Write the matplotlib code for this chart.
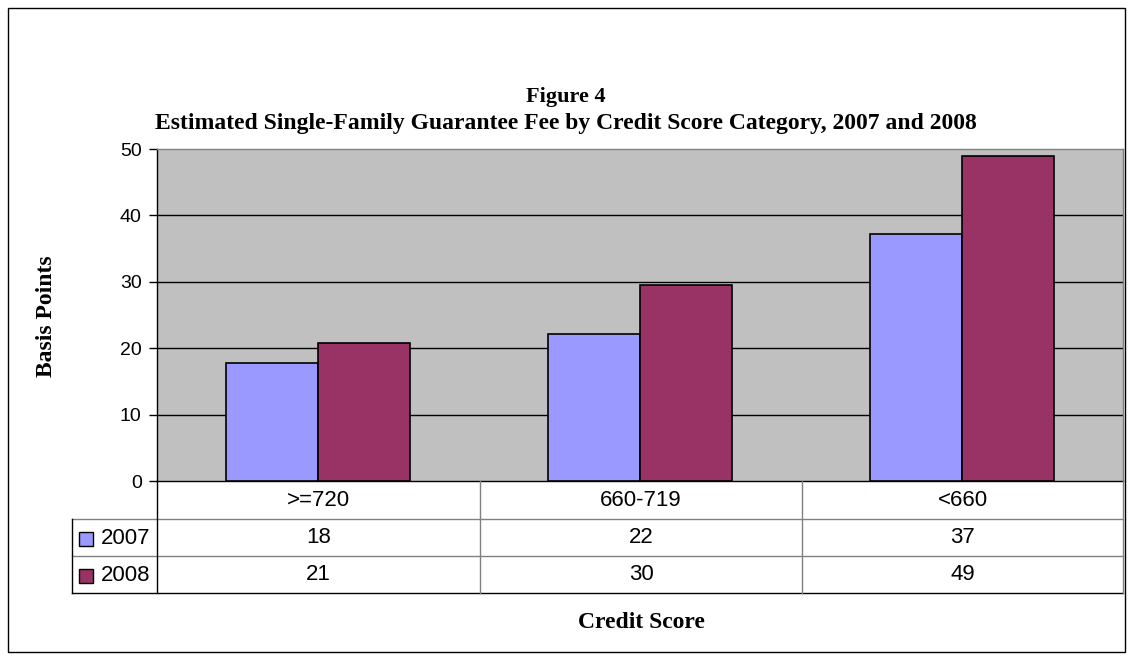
import matplotlib.pyplot as plt
from matplotlib.patches import Rectangle
from matplotlib.lines import Line2D
import numpy as np

categories = [">=720", "660-719", "<660"]
series_names = ["2007", "2008"]
values_2007 = [17.7, 22.2, 37.2]
values_2008 = [20.8, 29.5, 49.0]
yticks = [0, 10, 20, 30, 40, 50]

colors = ["#9999FF", "#993366"]

W, H = 1133, 661
fig = plt.figure(figsize=(W / 100, H / 100), dpi=100)

def fx(px):
    return px / W

def fy(py):
    return 1 - py / H

# plot area
left, right, top, bottom = 157, 1123, 149, 481
ax = fig.add_axes([fx(left), fy(bottom), fx(right - left), (bottom - top) / H])
ax.set_facecolor("#C0C0C0")

x = np.arange(len(categories))
w = 0.285
ax.bar(x - w / 2, values_2007, w, color=colors[0], edgecolor="black", linewidth=1.2, zorder=3)
ax.bar(x + w / 2, values_2008, w, color=colors[1], edgecolor="black", linewidth=1.2, zorder=3)

ax.set_xlim(-0.5, 2.5)
ax.set_ylim(0, 50)
ax.set_yticks(yticks)
ax.set_yticklabels([str(t) for t in yticks], fontsize=14, family="Liberation Sans")
ax.set_xticks([])
for t in yticks[1:-1]:
    ax.axhline(t, color="black", linewidth=1, zorder=1)
ax.tick_params(axis="y", direction="out", length=6, width=1, pad=5)
ax.spines["left"].set_color("black")
ax.spines["bottom"].set_color("black")
ax.spines["top"].set_color("#808080")
ax.spines["right"].set_color("#808080")
for s in ax.spines.values():
    s.set_linewidth(1)

fig.text(fx(46), fy(316), "Basis Points", rotation=90, ha="center", va="center",
         fontsize=17, family="Liberation Serif", fontweight="bold")

# titles
fig.text(fx(566), fy(97), "Figure 4", ha="center", va="center", fontsize=16,
         family="Liberation Serif", fontweight="bold")
fig.text(fx(566), fy(124), "Estimated Single-Family Guarantee Fee by Credit Score Category, 2007 and 2008",
         ha="center", va="center", fontsize=17, family="Liberation Serif", fontweight="bold")

# data table below axis
col_edges = [157, 480, 802, 1123]
row_edges = [481, 519, 556, 593]
lab_left = 72

def hline(x0, x1, y, c="black"):
    fig.add_artist(Line2D([fx(x0), fx(x1)], [fy(y), fy(y)], color=c, linewidth=1))

def vline(xp, y0, y1, c="black"):
    fig.add_artist(Line2D([fx(xp), fx(xp)], [fy(y0), fy(y1)], color=c, linewidth=1))

hline(lab_left, right, row_edges[1], "#808080")
hline(lab_left, right, row_edges[2], "#808080")
hline(lab_left, right, row_edges[3])
vline(lab_left, row_edges[1], row_edges[3])
vline(col_edges[0], row_edges[0], row_edges[3])
for xe in col_edges[1:-1]:
    vline(xe, row_edges[0], row_edges[3], "#808080")
vline(col_edges[-1], row_edges[0], row_edges[3], "#808080")

for i, cat in enumerate(categories):
    cx = (col_edges[i] + col_edges[i + 1]) / 2
    fig.text(fx(cx), fy((row_edges[0] + row_edges[1]) / 2), cat, ha="center", va="center",
             fontsize=16, family="Liberation Sans")
    for r, vals in enumerate([values_2007, values_2008]):
        cy = (row_edges[r + 1] + row_edges[r + 2]) / 2
        fig.text(fx(cx), fy(cy), str(int(round(vals[i]))), ha="center", va="center",
                 fontsize=16, family="Liberation Sans")

for r, name in enumerate(series_names):
    cy = (row_edges[r + 1] + row_edges[r + 2]) / 2 + 1
    fig.add_artist(Rectangle((fx(79), fy(cy + 7)), fx(14), 14 / H, facecolor=colors[r],
                             edgecolor="black", linewidth=1, transform=fig.transFigure))
    fig.text(fx(101), fy(cy), name, ha="left", va="center", fontsize=16, family="Liberation Sans")

fig.text(fx(641), fy(622), "Credit Score", ha="center", va="center", fontsize=17,
         family="Liberation Serif", fontweight="bold")

# outer frame
fig.add_artist(Rectangle((fx(8), fy(652)), fx(1125 - 8), (652 - 8) / H, fill=False,
                         edgecolor="black", linewidth=1, transform=fig.transFigure))

fig.savefig("out.png", dpi=100)
